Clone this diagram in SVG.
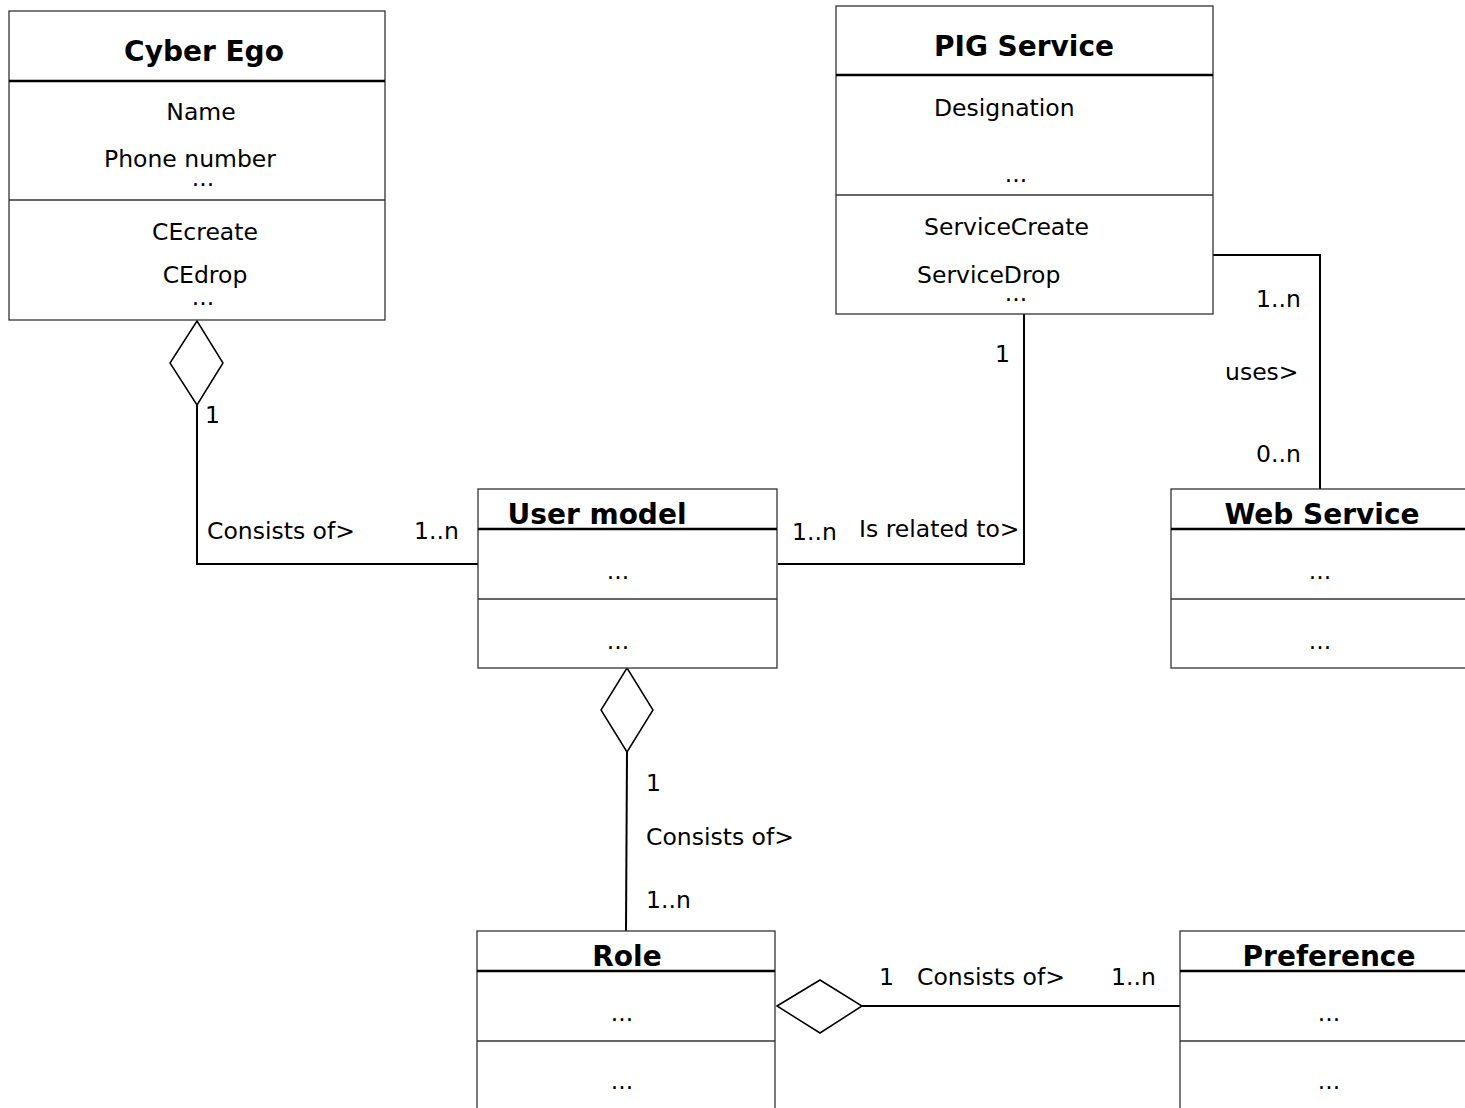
<svg xmlns="http://www.w3.org/2000/svg" width="1465" height="1108" viewBox="0 0 1465 1108">
<style>
text{font-family:"DejaVu Sans",Verdana,sans-serif;fill:#000}
.t{font-size:28px;font-weight:bold;text-anchor:middle}
.a{font-size:23.5px}
.c{text-anchor:middle}
.box{fill:#fff;stroke:#333;stroke-width:1.3}
.hd{stroke:#000;stroke-width:2.5}
.dv{stroke:#333;stroke-width:1.3}
.ln{fill:none;stroke:#000;stroke-width:2}
.dm{fill:#fff;stroke:#000;stroke-width:1.5}
</style>
<rect width="1465" height="1108" fill="#fff"/>
<g id="connectors">
<polyline class="ln" points="197,405 197,564 478,564"/>
<polyline class="ln" points="1024,314 1024,564 778,564"/>
<polyline class="ln" points="1213,255 1320,255 1320,489"/>
<polyline class="ln" points="627,752 626,931"/>
<polyline class="ln" points="862,1006 1180,1006"/>
<polygon class="dm" points="197,321 223,363 197,405 170,363"/>
<polygon class="dm" points="627,668 653,710 627,752 601,710"/>
<polygon class="dm" points="777,1006 820,980 862,1006 820,1033"/>
<text class="a" x="205" y="423">1</text>
<text class="a" x="207" y="539">Consists of&gt;</text>
<text class="a" x="414" y="539">1..n</text>
<text class="a" x="995" y="362">1</text>
<text class="a" x="792" y="540">1..n</text>
<text class="a" x="859" y="537">Is related to&gt;</text>
<text class="a" x="1256" y="307">1..n</text>
<text class="a" x="1225" y="380">uses&gt;</text>
<text class="a" x="1256" y="462">0..n</text>
<text class="a" x="646" y="791">1</text>
<text class="a" x="646" y="845">Consists of&gt;</text>
<text class="a" x="646" y="908">1..n</text>
<text class="a" x="879" y="985">1</text>
<text class="a" x="917" y="985">Consists of&gt;</text>
<text class="a" x="1111" y="985">1..n</text>
</g>
<g id="cyber-ego">
<rect class="box" x="9" y="11" width="376" height="309"/>
<line class="hd" x1="9" y1="81" x2="385" y2="81"/>
<line class="dv" x1="9" y1="200" x2="385" y2="200"/>
<text class="t" x="204" y="61">Cyber Ego</text>
<text class="a c" x="201" y="120">Name</text>
<text class="a c" x="190" y="167">Phone number</text>
<text class="a c" x="203" y="186">...</text>
<text class="a c" x="205" y="240">CEcreate</text>
<text class="a c" x="205" y="283">CEdrop</text>
<text class="a c" x="203" y="305">...</text>
</g>
<g id="pig-service">
<rect class="box" x="836" y="6" width="377" height="308"/>
<line class="hd" x1="836" y1="75" x2="1213" y2="75"/>
<line class="dv" x1="836" y1="195" x2="1213" y2="195"/>
<text class="t" x="1024" y="56">PIG Service</text>
<text class="a" x="934" y="116">Designation</text>
<text class="a c" x="1016" y="182">...</text>
<text class="a" x="924" y="235">ServiceCreate</text>
<text class="a" x="917" y="283">ServiceDrop</text>
<text class="a c" x="1016" y="301">...</text>
</g>
<g id="user-model">
<rect class="box" x="478" y="489" width="299" height="179"/>
<line class="hd" x1="478" y1="529" x2="777" y2="529"/>
<line class="dv" x1="478" y1="599" x2="777" y2="599"/>
<text class="t" x="597" y="524">User model</text>
<text class="a c" x="618" y="579">...</text>
<text class="a c" x="618" y="649">...</text>
</g>
<g id="web-service">
<rect class="box" x="1171" y="489" width="310" height="179"/>
<line class="hd" x1="1171" y1="529" x2="1465" y2="529"/>
<line class="dv" x1="1171" y1="599" x2="1465" y2="599"/>
<text class="t" x="1322" y="524">Web Service</text>
<text class="a c" x="1320" y="579">...</text>
<text class="a c" x="1320" y="649">...</text>
</g>
<g id="role">
<rect class="box" x="477" y="931" width="298" height="190"/>
<line class="hd" x1="477" y1="971" x2="775" y2="971"/>
<line class="dv" x1="477" y1="1041" x2="775" y2="1041"/>
<text class="t" x="627" y="966">Role</text>
<text class="a c" x="622" y="1021">...</text>
<text class="a c" x="622" y="1089">...</text>
</g>
<g id="preference">
<rect class="box" x="1180" y="931" width="300" height="190"/>
<line class="hd" x1="1180" y1="971" x2="1465" y2="971"/>
<line class="dv" x1="1180" y1="1041" x2="1465" y2="1041"/>
<text class="t" x="1329" y="966">Preference</text>
<text class="a c" x="1329" y="1021">...</text>
<text class="a c" x="1329" y="1089">...</text>
</g>
</svg>
